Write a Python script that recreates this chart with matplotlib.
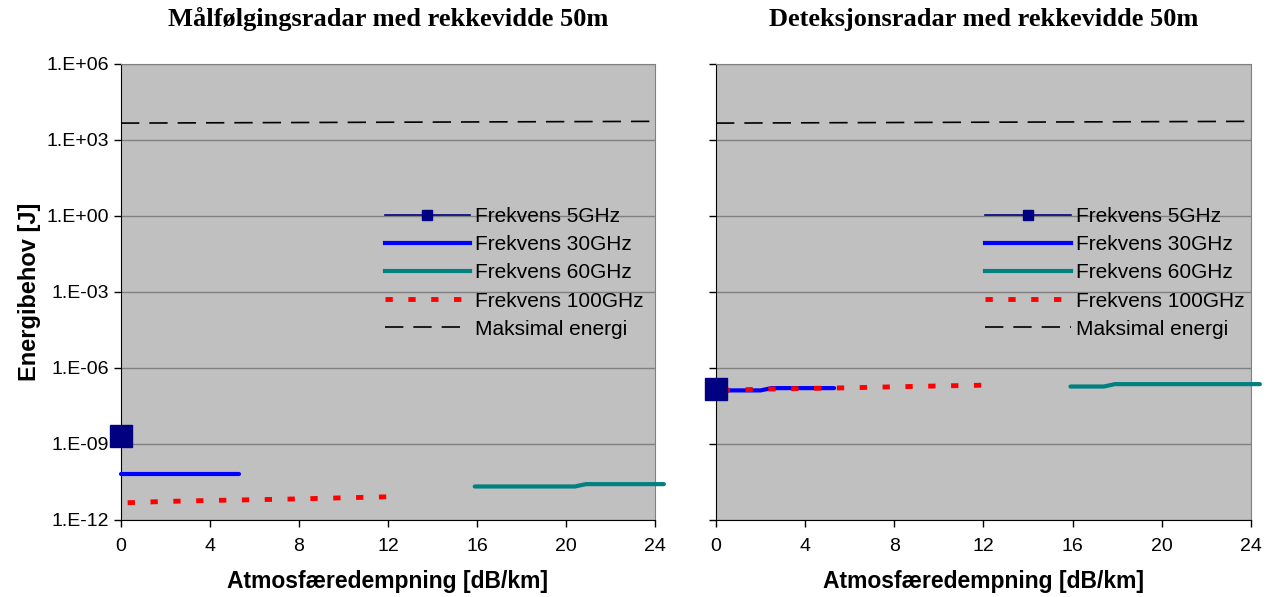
import matplotlib
matplotlib.use("Agg")
import matplotlib.pyplot as plt
from matplotlib.lines import Line2D
from matplotlib.ticker import FixedLocator, FixedFormatter

# energy requirement vs atmospheric attenuation, two radar types (range 50 m)
titles = ["Målfølgingsradar med rekkevidde 50m", "Deteksjonsradar med rekkevidde 50m"]

# tracking radar
t_5ghz_x = [0.0]
t_5ghz_y = [2.1e-9]
t_30ghz_x = [0.0, 1.0, 2.0, 3.0, 4.0, 5.3]
t_30ghz_y = [6.5e-11, 6.5e-11, 6.5e-11, 6.5e-11, 6.5e-11, 6.5e-11]
t_60ghz_x = [15.9, 18.0, 20.4, 20.9, 22.5, 24.4]
t_60ghz_y = [2.1e-11, 2.1e-11, 2.1e-11, 2.6e-11, 2.6e-11, 2.6e-11]
t_100ghz_x = [0.3, 2.0, 4.0, 6.0, 8.0, 10.0, 12.2]
t_100ghz_y = [4.8e-12, 5.4e-12, 5.9e-12, 6.3e-12, 6.8e-12, 7.5e-12, 8.3e-12]

# detection radar
d_5ghz_x = [0.0]
d_5ghz_y = [1.5e-7]
d_30ghz_x = [0.0, 2.0, 2.5, 4.0, 5.3]
d_30ghz_y = [1.3e-7, 1.3e-7, 1.6e-7, 1.6e-7, 1.6e-7]
d_60ghz_x = [15.9, 17.4, 17.9, 20.0, 22.0, 24.4]
d_60ghz_y = [1.85e-7, 1.85e-7, 2.3e-7, 2.3e-7, 2.3e-7, 2.3e-7]
d_100ghz_x = [0.3, 2.0, 4.0, 6.0, 8.0, 10.0, 12.2]
d_100ghz_y = [1.3e-7, 1.45e-7, 1.55e-7, 1.65e-7, 1.8e-7, 1.95e-7, 2.1e-7]

# maximum energy (same for both)
max_x = [0.0, 24.1]
max_y = [4.6e3, 5.4e3]

legend_labels = ["Frekvens 5GHz", "Frekvens 30GHz", "Frekvens 60GHz",
                 "Frekvens 100GHz", "Maksimal energi"]
x_ticks = [0, 4, 8, 12, 16, 20, 24]
y_ticks = [1e-12, 1e-9, 1e-6, 1e-3, 1e0, 1e3, 1e6]
y_tick_labels = ["1.E-12", "1.E-09", "1.E-06", "1.E-03", "1.E+00", "1.E+03", "1.E+06"]

plt.rcParams["font.family"] = ["Liberation Sans", "DejaVu Sans"]

fig = plt.figure(figsize=(12.79, 5.97), dpi=100)
ax1 = fig.add_axes([0.0946, 0.129, 0.4175, 0.764])
ax2 = fig.add_axes([0.5598, 0.129, 0.4183, 0.764])

panels = [
    (ax1, t_5ghz_x, t_5ghz_y, t_30ghz_x, t_30ghz_y, t_60ghz_x, t_60ghz_y, t_100ghz_x, t_100ghz_y),
    (ax2, d_5ghz_x, d_5ghz_y, d_30ghz_x, d_30ghz_y, d_60ghz_x, d_60ghz_y, d_100ghz_x, d_100ghz_y),
]
legend_x = [0.494, 0.503]

navy = "#000080"
blue = "#0000FF"
teal = "#008080"
red = "#FF0000"

for i, (ax, x5, y5, x30, y30, x60, y60, x100, y100) in enumerate(panels):
    ax.set_facecolor("#C0C0C0")
    ax.set_yscale("log")
    ax.set_ylim(1e-12, 1e6)
    ax.set_xlim(0, 24)
    ax.yaxis.set_major_locator(FixedLocator(y_ticks))
    ax.yaxis.set_minor_locator(FixedLocator([]))
    ax.grid(axis="y", color="#808080", linewidth=1.0)
    ax.set_axisbelow(True)
    ax.set_xticks(x_ticks)
    ax.tick_params(axis="both", direction="out", length=5, width=1, labelsize=14, colors="black")
    ax.tick_params(axis="x", pad=8)
    if i == 0:
        ax.yaxis.set_major_formatter(FixedFormatter(y_tick_labels))
        ax.set_ylabel("Energibehov [J]", fontsize=17, fontweight="bold", labelpad=4)
    else:
        ax.set_yticklabels([])
    for side in ("top", "right"):
        ax.spines[side].set_color("#808080")
    for side in ("left", "bottom"):
        ax.spines[side].set_color("black")

    ax.plot(max_x, max_y, color="black", linewidth=1.2, dashes=(11, 6), clip_on=False, zorder=3)
    ax.plot(x100, y100, color=red, linewidth=3.5, dashes=(1.5, 3.2), clip_on=False, zorder=5)
    ax.plot(x30, y30, color=blue, linewidth=3, solid_capstyle="round", clip_on=False, zorder=4)
    ax.plot(x60, y60, color=teal, linewidth=3, solid_capstyle="round", clip_on=False, zorder=4)
    ax.plot(x5, y5, color=navy, linewidth=1.2, marker="s", markersize=16,
            clip_on=False, zorder=6)

    ax.set_xlabel("Atmosfæredempning [dB/km]", fontsize=16.5, fontweight="bold", labelpad=11)
    ax.set_title(titles[i], fontsize=19, fontweight="bold", family="Liberation Serif", pad=27)

    handles = [
        Line2D([], [], color=navy, linewidth=1.2, marker="s", markersize=6.5),
        Line2D([], [], color=blue, linewidth=3),
        Line2D([], [], color=teal, linewidth=3),
        Line2D([], [], color=red, linewidth=3.5, dashes=(1.5, 3.2)),
        Line2D([], [], color="black", linewidth=1.2, dashes=(11, 6)),
    ]
    ax.legend(handles, legend_labels, loc="upper left", bbox_to_anchor=(legend_x[i], 0.686),
              frameon=False, fontsize=15, handlelength=4.1, handletextpad=0.25,
              labelspacing=0.44, borderaxespad=0, borderpad=0)

fig.savefig("out.png", dpi=100)
